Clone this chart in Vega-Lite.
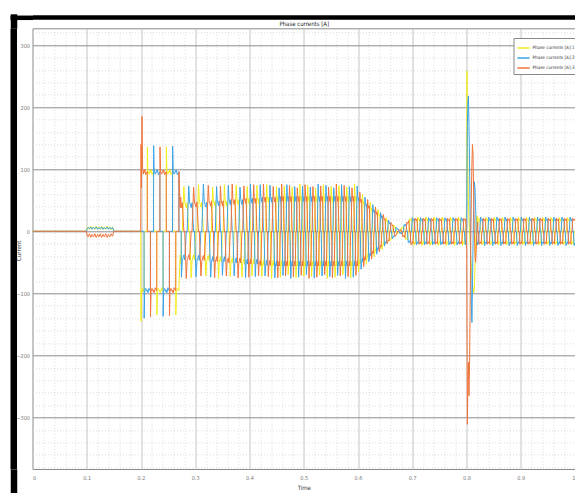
{
"$schema":"https://vega.github.io/schema/vega-lite/v6.json",
"width":542.5,"height":440.7,
"autosize":{"type":"none"},
"padding":{"left":32.5,"top":28.3,"right":0,"bottom":24},
"background":"white",
"config":{"view":{"stroke":"#8a8a8a","strokeWidth":1,"fill":"white"},"font":"Liberation Sans Narrow, DejaVu Sans Condensed, Liberation Sans, sans-serif"},
"layer":[
{"data":{"values":[{"t":0,"v":0}]},"mark":{"type":"point","opacity":0},
"encoding":{
"x":{"field":"t","type":"quantitative","scale":{"domain":[0,1],"nice":false,"zero":false},
"axis":{"orient":"bottom","values":[0.02,0.04,0.06,0.08,0.12,0.14,0.16,0.18,0.22,0.24,0.26,0.28,0.32,0.34,0.36,0.38,0.42,0.44,0.46,0.48,0.52,0.54,0.56,0.58,0.62,0.64,0.66,0.68,0.72,0.74,0.76,0.78,0.82,0.84,0.86,0.88,0.92,0.94,0.96,0.98],"grid":true,"gridColor":"#d4d4d4","gridDash":[1,2],"gridWidth":0.8,"labels":false,"ticks":false,"domain":false,"title":null}},
"y":{"field":"v","type":"quantitative","scale":{"domain":[-383,327],"nice":false,"zero":false},
"axis":{"orient":"left","values":[-380,-360,-340,-320,-280,-260,-240,-220,-180,-160,-140,-120,-80,-60,-40,-20,20,40,60,80,120,140,160,180,220,240,260,280,320],"grid":true,"gridColor":"#d4d4d4","gridDash":[1,2],"gridWidth":0.8,"labels":false,"ticks":false,"domain":false,"title":null}}
}},
{"data":{"values":[{"t":0,"v":0}]},"mark":{"type":"point","opacity":0},
"encoding":{
"x":{"field":"t","type":"quantitative","scale":{"domain":[0,1],"nice":false,"zero":false},
"axis":{"orient":"top","offset":11.3,"domain":true,"domainColor":"#000","domainWidth":4.5,"ticks":false,"labels":false,"grid":false,"title":"Phase currents [A]","titleX":271.25,"titleY":8,"titleBaseline":"alphabetic","titleAlign":"center","titleFontSize":6,"titleFontWeight":"normal","titleColor":"#222"}},
"y":{"field":"v","type":"quantitative","scale":{"domain":[-383,327],"nice":false,"zero":false},
"axis":{"orient":"left","offset":19.25,"domain":true,"domainColor":"#000","domainWidth":6.5,"ticks":false,"labels":false,"grid":false,"title":null}}
}},
{"data":{"values":[{"t":0,"v":0}]},"mark":{"type":"point","opacity":0},
"encoding":{
"x":{"field":"t","type":"quantitative","scale":{"domain":[0,1],"nice":false,"zero":false},
"axis":{"orient":"top","offset":0,"domain":false,"values":[0],"ticks":true,"tickColor":"#000","tickWidth":6.5,"tickSize":14.5,"tickOffset":-19.25,"labels":false,"grid":false,"title":null}},
"y":{"field":"v","type":"quantitative","scale":{"domain":[-383,327],"nice":false,"zero":false},
"axis":{"orient":"left","offset":0,"domain":false,"values":[327],"ticks":true,"tickColor":"#000","tickWidth":4.5,"tickSize":22.5,"tickOffset":-11.3,"labels":false,"grid":false,"title":null}}
}},
{"data":{"values":[{"t":0,"v":0}]},"mark":{"type":"point","opacity":0},
"encoding":{
"x":{"field":"t","type":"quantitative","scale":{"domain":[0,1],"nice":false,"zero":false},
"axis":{"orient":"bottom","offset":0,"domain":false,"values":[0],"ticks":true,"tickColor":"#000","tickWidth":6.5,"tickSize":25,"tickOffset":-19.25,"labels":false,"grid":false,"title":null}},
"y":{"field":"v","type":"quantitative","scale":{"domain":[-383,327],"nice":false,"zero":false},"axis":null}
}},
{"data":{"values":[
{"t":0,"1":0,"2":0,"3":0},{"t":0.099,"1":0,"2":0,"3":0},
{"t":0.1,"1":4,"2":3,"3":-5},{"t":0.1025,"1":7,"2":6,"3":-9},{"t":0.105,"1":3,"2":4,"3":-4},{"t":0.1075,"1":8,"2":7,"3":-10},{"t":0.11,"1":4,"2":3,"3":-5},{"t":0.1125,"1":7,"2":6,"3":-9},{"t":0.115,"1":3,"2":4,"3":-4},{"t":0.1175,"1":8,"2":7,"3":-10},{"t":0.12,"1":4,"2":3,"3":-5},{"t":0.1225,"1":7,"2":6,"3":-9},{"t":0.125,"1":3,"2":4,"3":-4},{"t":0.1275,"1":8,"2":7,"3":-10},{"t":0.13,"1":4,"2":3,"3":-5},{"t":0.1325,"1":7,"2":6,"3":-9},{"t":0.135,"1":3,"2":4,"3":-4},{"t":0.1375,"1":8,"2":7,"3":-10},{"t":0.14,"1":4,"2":3,"3":-5},{"t":0.1425,"1":7,"2":6,"3":-9},{"t":0.145,"1":3,"2":4,"3":-4},{"t":0.1475,"1":7,"2":6,"3":-8},{"t":0.15,"1":0,"2":0,"3":0},{"t":0.1995,"1":0,"2":0,"3":0},
{"t":0.2,"1":-145,"2":0,"3":140},{"t":0.2008,"1":-100,"2":0,"3":70},{"t":0.2018,"1":-92,"2":0,"3":185},{"t":0.203,"1":-97,"2":0,"3":100},{"t":0.2045,"1":-93,"2":0,"3":92},{"t":0.2056,"1":-98,"2":0,"3":98},
{"t":0.2058,"1":0,"2":-140,"3":95},{"t":0.2068,"1":0,"2":-98,"3":100},{"t":0.2085,"1":0,"2":-92,"3":91},{"t":0.2115,"1":0,"2":-97,"3":96},
{"t":0.2117,"1":135,"2":-95,"3":0},{"t":0.2127,"1":97,"2":-99,"3":0},{"t":0.2145,"1":92,"2":-92,"3":0},{"t":0.2173,"1":98,"2":-96,"3":0},
{"t":0.2175,"1":95,"2":0,"3":-138},{"t":0.2185,"1":99,"2":0,"3":-97},{"t":0.2203,"1":91,"2":0,"3":-92},{"t":0.2231,"1":96,"2":0,"3":-98},
{"t":0.2233,"1":0,"2":138,"3":-95},{"t":0.2243,"1":0,"2":97,"3":-99},{"t":0.2261,"1":0,"2":92,"3":-91},{"t":0.229,"1":0,"2":98,"3":-96},
{"t":0.2292,"1":-135,"2":95,"3":0},{"t":0.2302,"1":-97,"2":99,"3":0},{"t":0.232,"1":-92,"2":91,"3":0},{"t":0.2348,"1":-98,"2":96,"3":0},
{"t":0.235,"1":-95,"2":0,"3":136},{"t":0.236,"1":-99,"2":0,"3":97},{"t":0.2378,"1":-91,"2":0,"3":92},{"t":0.2406,"1":-96,"2":0,"3":98},
{"t":0.2408,"1":0,"2":-137,"3":95},{"t":0.2418,"1":0,"2":-97,"3":99},{"t":0.2436,"1":0,"2":-92,"3":91},{"t":0.2465,"1":0,"2":-98,"3":96},
{"t":0.2467,"1":136,"2":-95,"3":0},{"t":0.2477,"1":97,"2":-99,"3":0},{"t":0.2495,"1":92,"2":-91,"3":0},{"t":0.2523,"1":98,"2":-96,"3":0},
{"t":0.2525,"1":95,"2":0,"3":-136},{"t":0.2535,"1":99,"2":0,"3":-97},{"t":0.2553,"1":91,"2":0,"3":-92},{"t":0.2581,"1":96,"2":0,"3":-98},
{"t":0.2583,"1":0,"2":137,"3":-95},{"t":0.2593,"1":0,"2":97,"3":-99},{"t":0.2611,"1":0,"2":92,"3":-91},{"t":0.264,"1":0,"2":98,"3":-96},
{"t":0.2642,"1":-135,"2":95,"3":0},{"t":0.2652,"1":-97,"2":99,"3":0},{"t":0.267,"1":-92,"2":91,"3":0},{"t":0.2698,"1":-96,"2":96,"3":0},
{"t":0.27,"1":-90,"2":0,"3":96},{"t":0.2712,"1":-60,"2":0,"3":62},{"t":0.2722,"1":-38,"2":0,"3":38},{"t":0.2732,"1":-52,"2":0,"3":55},{"t":0.274,"1":-43,"2":0,"3":44},
{"t":0.2745,"1":0,"2":-74,"3":38},{"t":0.2761,"1":0,"2":-47,"3":46},
{"t":0.279,"1":72,"2":-38,"3":0},{"t":0.2806,"1":47,"2":-46,"3":0},
{"t":0.2835,"1":38,"2":0,"3":-76},{"t":0.2851,"1":46,"2":0,"3":-47},
{"t":0.288,"1":0,"2":73,"3":-38},{"t":0.2896,"1":0,"2":47,"3":-46},
{"t":0.2925,"1":-75,"2":38,"3":0},{"t":0.2941,"1":-47,"2":46,"3":0},
{"t":0.297,"1":-38,"2":0,"3":71},{"t":0.2986,"1":-46,"2":0,"3":47},
{"t":0.3015,"1":0,"2":-73,"3":39},{"t":0.3031,"1":0,"2":-48,"3":47},
{"t":0.306,"1":75,"2":-39,"3":0},{"t":0.3076,"1":48,"2":-47,"3":0},
{"t":0.3105,"1":39,"2":0,"3":-72},{"t":0.3121,"1":47,"2":0,"3":-48},
{"t":0.315,"1":0,"2":76,"3":-39},{"t":0.3166,"1":0,"2":48,"3":-47},
{"t":0.3195,"1":-72,"2":39,"3":0},{"t":0.3211,"1":-48,"2":47,"3":0},
{"t":0.324,"1":-39,"2":0,"3":74},{"t":0.3256,"1":-47,"2":0,"3":48},
{"t":0.3285,"1":0,"2":-74,"3":41},{"t":0.3298,"1":0,"2":-50,"3":49},
{"t":0.3321,"1":71,"2":-41,"3":0},{"t":0.3334,"1":50,"2":-49,"3":0},
{"t":0.3357,"1":41,"2":0,"3":-75},{"t":0.337,"1":49,"2":0,"3":-50},
{"t":0.3393,"1":0,"2":72,"3":-41},{"t":0.3406,"1":0,"2":50,"3":-49},
{"t":0.3429,"1":-76,"2":41,"3":0},{"t":0.3442,"1":-50,"2":49,"3":0},
{"t":0.3465,"1":-41,"2":0,"3":73},{"t":0.3478,"1":-49,"2":0,"3":50},
{"t":0.3501,"1":0,"2":-71,"3":41},{"t":0.3514,"1":0,"2":-50,"3":49},
{"t":0.3537,"1":75,"2":-41,"3":0},{"t":0.355,"1":50,"2":-49,"3":0},
{"t":0.3573,"1":41,"2":0,"3":-72},{"t":0.3586,"1":49,"2":0,"3":-50},
{"t":0.3609,"1":0,"2":74,"3":-43},{"t":0.3622,"1":0,"2":52,"3":-51},
{"t":0.3645,"1":-73,"2":43,"3":0},{"t":0.3658,"1":-52,"2":51,"3":0},
{"t":0.3681,"1":-43,"2":0,"3":76},{"t":0.3694,"1":-51,"2":0,"3":52},
{"t":0.3717,"1":0,"2":-72,"3":43},{"t":0.373,"1":0,"2":-52,"3":51},
{"t":0.3753,"1":74,"2":-43,"3":0},{"t":0.3766,"1":52,"2":-51,"3":0},
{"t":0.3789,"1":43,"2":0,"3":-75},{"t":0.3802,"1":51,"2":0,"3":-52},
{"t":0.3825,"1":0,"2":71,"3":-43},{"t":0.3838,"1":0,"2":52,"3":-51},
{"t":0.3861,"1":-74,"2":43,"3":0},{"t":0.3874,"1":-52,"2":51,"3":0},
{"t":0.3897,"1":-45,"2":0,"3":73},{"t":0.3907,"1":-53,"2":0,"3":54},
{"t":0.3927,"1":0,"2":-75,"3":45},{"t":0.3937,"1":0,"2":-54,"3":53},
{"t":0.3957,"1":72,"2":-45,"3":0},{"t":0.3967,"1":54,"2":-53,"3":0},
{"t":0.3987,"1":45,"2":0,"3":-74},{"t":0.3997,"1":53,"2":0,"3":-54},
{"t":0.4017,"1":0,"2":76,"3":-45},{"t":0.4027,"1":0,"2":54,"3":-53},
{"t":0.4047,"1":-72,"2":45,"3":0},{"t":0.4057,"1":-54,"2":53,"3":0},
{"t":0.4077,"1":-45,"2":0,"3":75},{"t":0.4087,"1":-53,"2":0,"3":54},
{"t":0.4107,"1":0,"2":-73,"3":45},{"t":0.4117,"1":0,"2":-54,"3":53},
{"t":0.4137,"1":74,"2":-45,"3":0},{"t":0.4147,"1":54,"2":-53,"3":0},
{"t":0.4167,"1":45,"2":0,"3":-72},{"t":0.4177,"1":53,"2":0,"3":-54},
{"t":0.4197,"1":0,"2":75,"3":-47},{"t":0.4207,"1":0,"2":56,"3":-55},
{"t":0.4227,"1":-73,"2":47,"3":0},{"t":0.4237,"1":-56,"2":55,"3":0},
{"t":0.4257,"1":-47,"2":0,"3":76},{"t":0.4267,"1":-55,"2":0,"3":56},
{"t":0.4287,"1":0,"2":-72,"3":47},{"t":0.4297,"1":0,"2":-56,"3":55},
{"t":0.4317,"1":75,"2":-47,"3":0},{"t":0.4327,"1":56,"2":-55,"3":0},
{"t":0.4347,"1":47,"2":0,"3":-73},{"t":0.4357,"1":55,"2":0,"3":-56},
{"t":0.4377,"1":0,"2":74,"3":-47},{"t":0.4387,"1":0,"2":56,"3":-55},
{"t":0.4407,"1":-76,"2":47,"3":0},{"t":0.4417,"1":-56,"2":55,"3":0},
{"t":0.4437,"1":-47,"2":0,"3":72},{"t":0.4447,"1":-55,"2":0,"3":56},
{"t":0.4467,"1":0,"2":-75,"3":47},{"t":0.4477,"1":0,"2":-56,"3":55},
{"t":0.4497,"1":72,"2":-48,"3":0},{"t":0.4505,"1":57,"2":-56,"3":0},
{"t":0.4521,"1":48,"2":0,"3":-75},{"t":0.4529,"1":56,"2":0,"3":-57},
{"t":0.4545,"1":0,"2":70,"3":-48},{"t":0.4553,"1":0,"2":57,"3":-56},
{"t":0.4569,"1":-74,"2":48,"3":0},{"t":0.4577,"1":-57,"2":56,"3":0},
{"t":0.4593,"1":-48,"2":0,"3":76},{"t":0.4601,"1":-56,"2":0,"3":57},
{"t":0.4617,"1":0,"2":-71,"3":48},{"t":0.4625,"1":0,"2":-57,"3":56},
{"t":0.4641,"1":73,"2":-48,"3":0},{"t":0.4649,"1":57,"2":-56,"3":0},
{"t":0.4665,"1":48,"2":0,"3":-72},{"t":0.4673,"1":56,"2":0,"3":-57},
{"t":0.4689,"1":0,"2":75,"3":-48},{"t":0.4697,"1":0,"2":57,"3":-56},
{"t":0.4713,"1":-70,"2":48,"3":0},{"t":0.4721,"1":-57,"2":56,"3":0},
{"t":0.4737,"1":-48,"2":0,"3":74},{"t":0.4745,"1":-56,"2":0,"3":57},
{"t":0.4761,"1":0,"2":-76,"3":48},{"t":0.4769,"1":0,"2":-57,"3":56},
{"t":0.4785,"1":71,"2":-48,"3":0},{"t":0.4793,"1":57,"2":-56,"3":0},
{"t":0.4809,"1":48,"2":0,"3":-73},{"t":0.4817,"1":56,"2":0,"3":-57},
{"t":0.4833,"1":0,"2":72,"3":-48},{"t":0.4841,"1":0,"2":57,"3":-56},
{"t":0.4857,"1":-75,"2":48,"3":0},{"t":0.4865,"1":-57,"2":56,"3":0},
{"t":0.4881,"1":-48,"2":0,"3":70},{"t":0.4889,"1":-56,"2":0,"3":57},
{"t":0.4905,"1":0,"2":-74,"3":48},{"t":0.4913,"1":0,"2":-57,"3":56},
{"t":0.4929,"1":76,"2":-48,"3":0},{"t":0.4937,"1":57,"2":-56,"3":0},
{"t":0.4953,"1":48,"2":0,"3":-71},{"t":0.4961,"1":56,"2":0,"3":-57},
{"t":0.4977,"1":0,"2":73,"3":-48},{"t":0.4985,"1":0,"2":57,"3":-56},
{"t":0.5001,"1":-72,"2":48,"3":0},{"t":0.5009,"1":-57,"2":56,"3":0},
{"t":0.5025,"1":-48,"2":0,"3":75},{"t":0.5033,"1":-56,"2":0,"3":57},
{"t":0.5049,"1":0,"2":-70,"3":48},{"t":0.5057,"1":0,"2":-57,"3":56},
{"t":0.5073,"1":74,"2":-48,"3":0},{"t":0.5081,"1":57,"2":-56,"3":0},
{"t":0.5097,"1":48,"2":0,"3":-76},{"t":0.5105,"1":56,"2":0,"3":-57},
{"t":0.5121,"1":0,"2":71,"3":-48},{"t":0.5129,"1":0,"2":57,"3":-56},
{"t":0.5145,"1":-73,"2":48,"3":0},{"t":0.5153,"1":-57,"2":56,"3":0},
{"t":0.5169,"1":-48,"2":0,"3":72},{"t":0.5177,"1":-56,"2":0,"3":57},
{"t":0.5193,"1":0,"2":-75,"3":48},{"t":0.5201,"1":0,"2":-57,"3":56},
{"t":0.5217,"1":70,"2":-48,"3":0},{"t":0.5225,"1":57,"2":-56,"3":0},
{"t":0.5241,"1":48,"2":0,"3":-74},{"t":0.5249,"1":56,"2":0,"3":-57},
{"t":0.5265,"1":0,"2":76,"3":-48},{"t":0.5273,"1":0,"2":57,"3":-56},
{"t":0.5289,"1":-71,"2":48,"3":0},{"t":0.5297,"1":-57,"2":56,"3":0},
{"t":0.5313,"1":-48,"2":0,"3":73},{"t":0.5321,"1":-56,"2":0,"3":57},
{"t":0.5337,"1":0,"2":-72,"3":48},{"t":0.5345,"1":0,"2":-57,"3":56},
{"t":0.5361,"1":75,"2":-48,"3":0},{"t":0.5369,"1":57,"2":-56,"3":0},
{"t":0.5385,"1":48,"2":0,"3":-70},{"t":0.5393,"1":56,"2":0,"3":-57},
{"t":0.5409,"1":0,"2":74,"3":-48},{"t":0.5417,"1":0,"2":57,"3":-56},
{"t":0.5433,"1":-76,"2":48,"3":0},{"t":0.5441,"1":-57,"2":56,"3":0},
{"t":0.5457,"1":-48,"2":0,"3":71},{"t":0.5465,"1":-56,"2":0,"3":57},
{"t":0.5481,"1":0,"2":-73,"3":48},{"t":0.5489,"1":0,"2":-57,"3":56},
{"t":0.5505,"1":72,"2":-48,"3":0},{"t":0.5513,"1":57,"2":-56,"3":0},
{"t":0.5529,"1":48,"2":0,"3":-75},{"t":0.5537,"1":56,"2":0,"3":-57},
{"t":0.5553,"1":0,"2":70,"3":-48},{"t":0.5561,"1":0,"2":57,"3":-56},
{"t":0.5577,"1":-74,"2":48,"3":0},{"t":0.5585,"1":-57,"2":56,"3":0},
{"t":0.5601,"1":-48,"2":0,"3":76},{"t":0.5609,"1":-56,"2":0,"3":57},
{"t":0.5625,"1":0,"2":-71,"3":48},{"t":0.5633,"1":0,"2":-57,"3":56},
{"t":0.5649,"1":73,"2":-48,"3":0},{"t":0.5657,"1":57,"2":-56,"3":0},
{"t":0.5673,"1":48,"2":0,"3":-72},{"t":0.5681,"1":56,"2":0,"3":-57},
{"t":0.5697,"1":0,"2":75,"3":-48},{"t":0.5705,"1":0,"2":57,"3":-56},
{"t":0.5721,"1":-70,"2":48,"3":0},{"t":0.5729,"1":-57,"2":56,"3":0},
{"t":0.5745,"1":-48,"2":0,"3":74},{"t":0.5753,"1":-56,"2":0,"3":57},
{"t":0.5769,"1":0,"2":-76,"3":48},{"t":0.5777,"1":0,"2":-57,"3":56},
{"t":0.5793,"1":71,"2":-48,"3":0},{"t":0.5801,"1":57,"2":-56,"3":0},
{"t":0.5817,"1":48,"2":0,"3":-73},{"t":0.5825,"1":56,"2":0,"3":-57},
{"t":0.5841,"1":0,"2":72,"3":-48},{"t":0.5849,"1":0,"2":57,"3":-56},
{"t":0.5865,"1":-75,"2":48,"3":0},{"t":0.5873,"1":-57,"2":56,"3":0},
{"t":0.5889,"1":-48,"2":0,"3":70},{"t":0.5897,"1":-56,"2":0,"3":57},
{"t":0.5913,"1":0,"2":-74,"3":48},{"t":0.5921,"1":0,"2":-57,"3":56},
{"t":0.5937,"1":76,"2":-48,"3":0},{"t":0.5945,"1":57,"2":-56,"3":0},
{"t":0.5961,"1":48,"2":0,"3":-71},{"t":0.5969,"1":56,"2":0,"3":-57},
{"t":0.5985,"1":0,"2":73,"3":-48},{"t":0.5993,"1":0,"2":57,"3":-56},
{"t":0.6009,"1":-65,"2":49,"3":0},{"t":0.6017,"1":-55,"2":54,"3":0},
{"t":0.6033,"1":-47,"2":0,"3":63},{"t":0.6041,"1":-52,"2":0,"3":53},
{"t":0.6057,"1":0,"2":-61,"3":46},{"t":0.6065,"1":0,"2":-52,"3":51},
{"t":0.6081,"1":59,"2":-44,"3":0},{"t":0.6089,"1":50,"2":-49,"3":0},
{"t":0.6105,"1":43,"2":0,"3":-57},{"t":0.6113,"1":47,"2":0,"3":-48},
{"t":0.6129,"1":0,"2":55,"3":-41},{"t":0.6137,"1":0,"2":47,"3":-46},
{"t":0.6153,"1":-53,"2":40,"3":0},{"t":0.6161,"1":-45,"2":44,"3":0},
{"t":0.6177,"1":-38,"2":0,"3":51},{"t":0.6185,"1":-42,"2":0,"3":43},
{"t":0.6201,"1":0,"2":-49,"3":37},{"t":0.6209,"1":0,"2":-42,"3":41},
{"t":0.6225,"1":47,"2":-35,"3":0},{"t":0.6233,"1":40,"2":-39,"3":0},
{"t":0.6249,"1":33,"2":0,"3":-45},{"t":0.6257,"1":37,"2":0,"3":-38},
{"t":0.6273,"1":0,"2":43,"3":-32},{"t":0.6281,"1":0,"2":37,"3":-36},
{"t":0.6297,"1":-41,"2":30,"3":0},{"t":0.6305,"1":-35,"2":34,"3":0},
{"t":0.6321,"1":-29,"2":0,"3":39},{"t":0.6329,"1":-32,"2":0,"3":33},
{"t":0.6345,"1":0,"2":-37,"3":27},{"t":0.6353,"1":0,"2":-32,"3":31},
{"t":0.6369,"1":35,"2":-26,"3":0},{"t":0.6377,"1":30,"2":-29,"3":0},
{"t":0.6393,"1":24,"2":0,"3":-33},{"t":0.6401,"1":27,"2":0,"3":-28},
{"t":0.6417,"1":0,"2":30,"3":-23},{"t":0.6425,"1":0,"2":26,"3":-25},
{"t":0.6441,"1":-29,"2":21,"3":0},{"t":0.6449,"1":-25,"2":24,"3":0},
{"t":0.6465,"1":-20,"2":0,"3":27},{"t":0.6473,"1":-22,"2":0,"3":23},
{"t":0.6489,"1":0,"2":-24,"3":18},{"t":0.6497,"1":0,"2":-21,"3":20},
{"t":0.6513,"1":22,"2":-17,"3":0},{"t":0.6521,"1":20,"2":-19,"3":0},
{"t":0.6537,"1":15,"2":0,"3":-20},{"t":0.6545,"1":17,"2":0,"3":-18},
{"t":0.6561,"1":0,"2":18,"3":-14},{"t":0.6569,"1":0,"2":16,"3":-15},
{"t":0.6585,"1":-16,"2":12,"3":0},{"t":0.6593,"1":-15,"2":14,"3":0},
{"t":0.6609,"1":-11,"2":0,"3":14},{"t":0.6617,"1":-12,"2":0,"3":13},
{"t":0.6633,"1":0,"2":-12,"3":9},{"t":0.6641,"1":0,"2":-11,"3":10},
{"t":0.6657,"1":10,"2":-8,"3":0},{"t":0.6665,"1":10,"2":-9,"3":0},
{"t":0.6681,"1":6,"2":0,"3":-8},{"t":0.6689,"1":7,"2":0,"3":-8},
{"t":0.6705,"1":0,"2":6,"3":-5},{"t":0.6713,"1":0,"2":6,"3":-5},
{"t":0.6729,"1":-4,"2":3,"3":0},{"t":0.6737,"1":-4,"2":4,"3":0},
{"t":0.6753,"1":-2,"2":0,"3":2},{"t":0.6761,"1":-2,"2":0,"3":2},
{"t":0.6777,"1":0,"2":-4,"3":1},{"t":0.6786,"1":0,"2":-2,"3":3},
{"t":0.6802,"1":6,"2":-2,"3":0},{"t":0.6811,"1":4,"2":-5,"3":0},
{"t":0.6827,"1":5,"2":0,"3":-9},{"t":0.6836,"1":8,"2":0,"3":-7},
{"t":0.6852,"1":0,"2":11,"3":-7},{"t":0.6861,"1":0,"2":9,"3":-10},
{"t":0.6877,"1":-13,"2":9,"3":0},{"t":0.6886,"1":-11,"2":12,"3":0},
{"t":0.6902,"1":-11,"2":0,"3":15},{"t":0.6911,"1":-14,"2":0,"3":13},
{"t":0.6927,"1":0,"2":-18,"3":14},{"t":0.6936,"1":0,"2":-16,"3":17},
{"t":0.6952,"1":20,"2":-16,"3":0},{"t":0.6961,"1":18,"2":-19,"3":0},
{"t":0.6977,"1":18,"2":0,"3":-22},{"t":0.6986,"1":21,"2":0,"3":-20},
{"t":0.7002,"1":0,"2":22,"3":-17},{"t":0.7011,"1":0,"2":19,"3":-20},
{"t":0.7027,"1":-23,"2":17,"3":0},{"t":0.7036,"1":-19,"2":20,"3":0},
{"t":0.7052,"1":-17,"2":0,"3":21},{"t":0.7061,"1":-20,"2":0,"3":19},
{"t":0.7077,"1":0,"2":-22,"3":17},{"t":0.7086,"1":0,"2":-19,"3":20},
{"t":0.7102,"1":23,"2":-17,"3":0},{"t":0.7111,"1":19,"2":-20,"3":0},
{"t":0.7127,"1":17,"2":0,"3":-21},{"t":0.7136,"1":20,"2":0,"3":-19},
{"t":0.7152,"1":0,"2":22,"3":-17},{"t":0.7161,"1":0,"2":19,"3":-20},
{"t":0.7177,"1":-23,"2":17,"3":0},{"t":0.7186,"1":-19,"2":20,"3":0},
{"t":0.7202,"1":-17,"2":0,"3":21},{"t":0.7211,"1":-20,"2":0,"3":19},
{"t":0.7227,"1":0,"2":-22,"3":17},{"t":0.7236,"1":0,"2":-19,"3":20},
{"t":0.7252,"1":23,"2":-17,"3":0},{"t":0.7261,"1":19,"2":-20,"3":0},
{"t":0.7277,"1":17,"2":0,"3":-21},{"t":0.7286,"1":20,"2":0,"3":-19},
{"t":0.7302,"1":0,"2":22,"3":-17},{"t":0.7311,"1":0,"2":19,"3":-20},
{"t":0.7327,"1":-23,"2":17,"3":0},{"t":0.7336,"1":-19,"2":20,"3":0},
{"t":0.7352,"1":-17,"2":0,"3":21},{"t":0.7361,"1":-20,"2":0,"3":19},
{"t":0.7377,"1":0,"2":-22,"3":17},{"t":0.7386,"1":0,"2":-19,"3":20},
{"t":0.7402,"1":23,"2":-17,"3":0},{"t":0.7411,"1":19,"2":-20,"3":0},
{"t":0.7427,"1":17,"2":0,"3":-21},{"t":0.7436,"1":20,"2":0,"3":-19},
{"t":0.7452,"1":0,"2":22,"3":-17},{"t":0.7461,"1":0,"2":19,"3":-20},
{"t":0.7477,"1":-23,"2":17,"3":0},{"t":0.7486,"1":-19,"2":20,"3":0},
{"t":0.7502,"1":-17,"2":0,"3":21},{"t":0.7511,"1":-20,"2":0,"3":19},
{"t":0.7527,"1":0,"2":-22,"3":17},{"t":0.7536,"1":0,"2":-19,"3":20},
{"t":0.7552,"1":23,"2":-17,"3":0},{"t":0.7561,"1":19,"2":-20,"3":0},
{"t":0.7577,"1":17,"2":0,"3":-21},{"t":0.7586,"1":20,"2":0,"3":-19},
{"t":0.7602,"1":0,"2":22,"3":-17},{"t":0.7611,"1":0,"2":19,"3":-20},
{"t":0.7627,"1":-23,"2":17,"3":0},{"t":0.7636,"1":-19,"2":20,"3":0},
{"t":0.7652,"1":-17,"2":0,"3":21},{"t":0.7661,"1":-20,"2":0,"3":19},
{"t":0.7677,"1":0,"2":-22,"3":17},{"t":0.7686,"1":0,"2":-19,"3":20},
{"t":0.7702,"1":23,"2":-17,"3":0},{"t":0.7711,"1":19,"2":-20,"3":0},
{"t":0.7727,"1":17,"2":0,"3":-21},{"t":0.7736,"1":20,"2":0,"3":-19},
{"t":0.7752,"1":0,"2":22,"3":-17},{"t":0.7761,"1":0,"2":19,"3":-20},
{"t":0.7777,"1":-23,"2":17,"3":0},{"t":0.7786,"1":-19,"2":20,"3":0},
{"t":0.7802,"1":-17,"2":0,"3":21},{"t":0.7811,"1":-20,"2":0,"3":19},
{"t":0.7827,"1":0,"2":-22,"3":17},{"t":0.7836,"1":0,"2":-19,"3":20},
{"t":0.7852,"1":23,"2":-17,"3":0},{"t":0.7861,"1":19,"2":-20,"3":0},
{"t":0.7877,"1":17,"2":0,"3":-21},{"t":0.7886,"1":20,"2":0,"3":-19},
{"t":0.7902,"1":0,"2":22,"3":-17},{"t":0.7911,"1":0,"2":19,"3":-20},
{"t":0.7927,"1":-23,"2":17,"3":0},{"t":0.7936,"1":-19,"2":20,"3":0},
{"t":0.7952,"1":-17,"2":0,"3":21},{"t":0.7961,"1":-20,"2":0,"3":19},
{"t":0.7977,"1":0,"2":-22,"3":17},{"t":0.7986,"1":0,"2":-19,"3":20},
{"t":0.8004,"1":50,"2":5,"3":-30},{"t":0.8008,"1":258,"2":90,"3":-120},{"t":0.8016,"1":160,"2":170,"3":-311},{"t":0.8026,"1":90,"2":210,"3":-240},{"t":0.8036,"1":50,"2":218,"3":-211},{"t":0.8046,"1":20,"2":170,"3":-265},{"t":0.8056,"1":0,"2":110,"3":-215},{"t":0.8066,"1":-20,"2":40,"3":-130},{"t":0.8078,"1":-40,"2":-50,"3":-20},{"t":0.809,"1":-60,"2":-120,"3":60},{"t":0.81,"1":-75,"2":-147,"3":110},{"t":0.811,"1":-85,"2":-90,"3":140},{"t":0.812,"1":-92,"2":-20,"3":125},{"t":0.8132,"1":-99,"2":40,"3":60},{"t":0.8144,"1":-95,"2":80,"3":0},{"t":0.8156,"1":-60,"2":70,"3":-40},{"t":0.8168,"1":-20,"2":40,"3":-50},{"t":0.818,"1":15,"2":0,"3":-30},{"t":0.8194,"1":25,"2":-20,"3":0},{"t":0.8206,"1":10,"2":-22,"3":15},
{"t":0.821,"1":22,"2":-17,"3":0},{"t":0.8219,"1":19,"2":-20,"3":0},{"t":0.8235,"1":17,"2":0,"3":-21},{"t":0.8244,"1":20,"2":0,"3":-19},{"t":0.826,"1":0,"2":23,"3":-17},{"t":0.8269,"1":0,"2":19,"3":-20},{"t":0.8285,"1":-22,"2":17,"3":0},{"t":0.8294,"1":-19,"2":20,"3":0},{"t":0.831,"1":-17,"2":0,"3":21},{"t":0.8319,"1":-20,"2":0,"3":19},{"t":0.8335,"1":0,"2":-23,"3":17},{"t":0.8344,"1":0,"2":-19,"3":20},
{"t":0.836,"1":22,"2":-17,"3":0},{"t":0.8369,"1":19,"2":-20,"3":0},{"t":0.8385,"1":17,"2":0,"3":-21},{"t":0.8394,"1":20,"2":0,"3":-19},{"t":0.841,"1":0,"2":23,"3":-17},{"t":0.8419,"1":0,"2":19,"3":-20},{"t":0.8435,"1":-22,"2":17,"3":0},{"t":0.8444,"1":-19,"2":20,"3":0},{"t":0.846,"1":-17,"2":0,"3":21},{"t":0.8469,"1":-20,"2":0,"3":19},{"t":0.8485,"1":0,"2":-23,"3":17},{"t":0.8494,"1":0,"2":-19,"3":20},
{"t":0.851,"1":22,"2":-17,"3":0},{"t":0.8519,"1":19,"2":-20,"3":0},{"t":0.8535,"1":17,"2":0,"3":-21},{"t":0.8544,"1":20,"2":0,"3":-19},{"t":0.856,"1":0,"2":23,"3":-17},{"t":0.8569,"1":0,"2":19,"3":-20},{"t":0.8585,"1":-22,"2":17,"3":0},{"t":0.8594,"1":-19,"2":20,"3":0},{"t":0.861,"1":-17,"2":0,"3":21},{"t":0.8619,"1":-20,"2":0,"3":19},{"t":0.8635,"1":0,"2":-23,"3":17},{"t":0.8644,"1":0,"2":-19,"3":20},
{"t":0.866,"1":22,"2":-17,"3":0},{"t":0.8669,"1":19,"2":-20,"3":0},{"t":0.8685,"1":17,"2":0,"3":-21},{"t":0.8694,"1":20,"2":0,"3":-19},{"t":0.871,"1":0,"2":23,"3":-17},{"t":0.8719,"1":0,"2":19,"3":-20},{"t":0.8735,"1":-22,"2":17,"3":0},{"t":0.8744,"1":-19,"2":20,"3":0},{"t":0.876,"1":-17,"2":0,"3":21},{"t":0.8769,"1":-20,"2":0,"3":19},{"t":0.8785,"1":0,"2":-23,"3":17},{"t":0.8794,"1":0,"2":-19,"3":20},
{"t":0.881,"1":22,"2":-17,"3":0},{"t":0.8819,"1":19,"2":-20,"3":0},{"t":0.8835,"1":17,"2":0,"3":-21},{"t":0.8844,"1":20,"2":0,"3":-19},{"t":0.886,"1":0,"2":23,"3":-17},{"t":0.8869,"1":0,"2":19,"3":-20},{"t":0.8885,"1":-22,"2":17,"3":0},{"t":0.8894,"1":-19,"2":20,"3":0},{"t":0.891,"1":-17,"2":0,"3":21},{"t":0.8919,"1":-20,"2":0,"3":19},{"t":0.8935,"1":0,"2":-23,"3":17},{"t":0.8944,"1":0,"2":-19,"3":20},
{"t":0.896,"1":22,"2":-17,"3":0},{"t":0.8969,"1":19,"2":-20,"3":0},{"t":0.8985,"1":17,"2":0,"3":-21},{"t":0.8994,"1":20,"2":0,"3":-19},{"t":0.901,"1":0,"2":23,"3":-17},{"t":0.9019,"1":0,"2":19,"3":-20},{"t":0.9035,"1":-22,"2":17,"3":0},{"t":0.9044,"1":-19,"2":20,"3":0},{"t":0.906,"1":-17,"2":0,"3":21},{"t":0.9069,"1":-20,"2":0,"3":19},{"t":0.9085,"1":0,"2":-23,"3":17},{"t":0.9094,"1":0,"2":-19,"3":20},
{"t":0.911,"1":22,"2":-17,"3":0},{"t":0.9119,"1":19,"2":-20,"3":0},{"t":0.9135,"1":17,"2":0,"3":-21},{"t":0.9144,"1":20,"2":0,"3":-19},{"t":0.916,"1":0,"2":23,"3":-17},{"t":0.9169,"1":0,"2":19,"3":-20},{"t":0.9185,"1":-22,"2":17,"3":0},{"t":0.9194,"1":-19,"2":20,"3":0},{"t":0.921,"1":-17,"2":0,"3":21},{"t":0.9219,"1":-20,"2":0,"3":19},{"t":0.9235,"1":0,"2":-23,"3":17},{"t":0.9244,"1":0,"2":-19,"3":20},
{"t":0.926,"1":22,"2":-17,"3":0},{"t":0.9269,"1":19,"2":-20,"3":0},{"t":0.9285,"1":17,"2":0,"3":-21},{"t":0.9294,"1":20,"2":0,"3":-19},{"t":0.931,"1":0,"2":23,"3":-17},{"t":0.9319,"1":0,"2":19,"3":-20},{"t":0.9335,"1":-22,"2":17,"3":0},{"t":0.9344,"1":-19,"2":20,"3":0},{"t":0.936,"1":-17,"2":0,"3":21},{"t":0.9369,"1":-20,"2":0,"3":19},{"t":0.9385,"1":0,"2":-23,"3":17},{"t":0.9394,"1":0,"2":-19,"3":20},
{"t":0.941,"1":22,"2":-17,"3":0},{"t":0.9419,"1":19,"2":-20,"3":0},{"t":0.9435,"1":17,"2":0,"3":-21},{"t":0.9444,"1":20,"2":0,"3":-19},{"t":0.946,"1":0,"2":23,"3":-17},{"t":0.9469,"1":0,"2":19,"3":-20},{"t":0.9485,"1":-22,"2":17,"3":0},{"t":0.9494,"1":-19,"2":20,"3":0},{"t":0.951,"1":-17,"2":0,"3":21},{"t":0.9519,"1":-20,"2":0,"3":19},{"t":0.9535,"1":0,"2":-23,"3":17},{"t":0.9544,"1":0,"2":-19,"3":20},
{"t":0.956,"1":22,"2":-17,"3":0},{"t":0.9569,"1":19,"2":-20,"3":0},{"t":0.9585,"1":17,"2":0,"3":-21},{"t":0.9594,"1":20,"2":0,"3":-19},{"t":0.961,"1":0,"2":23,"3":-17},{"t":0.9619,"1":0,"2":19,"3":-20},{"t":0.9635,"1":-22,"2":17,"3":0},{"t":0.9644,"1":-19,"2":20,"3":0},{"t":0.966,"1":-17,"2":0,"3":21},{"t":0.9669,"1":-20,"2":0,"3":19},{"t":0.9685,"1":0,"2":-23,"3":17},{"t":0.9694,"1":0,"2":-19,"3":20},
{"t":0.971,"1":22,"2":-17,"3":0},{"t":0.9719,"1":19,"2":-20,"3":0},{"t":0.9735,"1":17,"2":0,"3":-21},{"t":0.9744,"1":20,"2":0,"3":-19},{"t":0.976,"1":0,"2":23,"3":-17},{"t":0.9769,"1":0,"2":19,"3":-20},{"t":0.9785,"1":-22,"2":17,"3":0},{"t":0.9794,"1":-19,"2":20,"3":0},{"t":0.981,"1":-17,"2":0,"3":21},{"t":0.9819,"1":-20,"2":0,"3":19},{"t":0.9835,"1":0,"2":-23,"3":17},{"t":0.9844,"1":0,"2":-19,"3":20},
{"t":0.986,"1":22,"2":-17,"3":0},{"t":0.9869,"1":19,"2":-20,"3":0},{"t":0.9885,"1":17,"2":0,"3":-21},{"t":0.9894,"1":20,"2":0,"3":-19},{"t":0.991,"1":0,"2":23,"3":-17},{"t":0.9919,"1":0,"2":19,"3":-20},{"t":0.9935,"1":-22,"2":17,"3":0},{"t":0.9944,"1":-19,"2":20,"3":0},{"t":0.996,"1":-17,"2":0,"3":21},{"t":0.9969,"1":-20,"2":0,"3":19},{"t":0.9985,"1":0,"2":-23,"3":17},{"t":0.9994,"1":0,"2":-19,"3":20}
]},
"transform":[{"fold":["1","2","3"],"as":["p","v"]}],
"mark":{"type":"line","strokeWidth":1,"clip":true,"interpolate":"linear"},
"encoding":{
"x":{"field":"t","type":"quantitative","scale":{"domain":[0,1],"nice":false,"zero":false},
"axis":{"orient":"bottom","values":[0,0.1,0.2,0.3,0.4,0.5,0.6,0.7,0.8,0.9,1],"format":"~g","grid":true,"gridColor":"#c4c4c4","gridWidth":1,"ticks":false,"domain":false,"labelFontSize":5.5,"labelColor":"#777","labelPadding":6,"title":"Time","titleFontSize":6,"titleFontWeight":"normal","titleColor":"#333","titleY":18,"titleBaseline":"middle"}},
"y":{"field":"v","type":"quantitative","scale":{"domain":[-383,327],"nice":false,"zero":false},
"axis":{"orient":"left","values":[-300,-200,-100,0,100,200,300],"grid":true,"gridColor":"#8c8c8c","ticks":false,"domain":false,"labelFontSize":5.5,"labelColor":"#777","labelPadding":3,"title":"Current","titleFontSize":6,"titleFontWeight":"normal","titleColor":"#333","titleX":-14,"titleY":222,"titleAngle":270,"titleBaseline":"middle","titleAlign":"center"}},
"color":{"field":"p","type":"nominal","scale":{"domain":["1","2","3"],"range":["#f2ec1c","#3aa3e6","#f0743a"]},
"legend":{"orient":"none","legendX":481,"legendY":9.7,"title":null,"labelExpr":"'Phase currents [A]:' + datum.label","labelFontSize":4.6,"labelColor":"#333","symbolType":"stroke","symbolSize":150,"symbolStrokeWidth":1.5,"fillColor":"white","strokeColor":"#888","padding":3,"rowPadding":0,"labelOffset":2}},
"order":{"value":null}
}}
],
"resolve":{"axis":{"x":"independent","y":"independent"}}
}
